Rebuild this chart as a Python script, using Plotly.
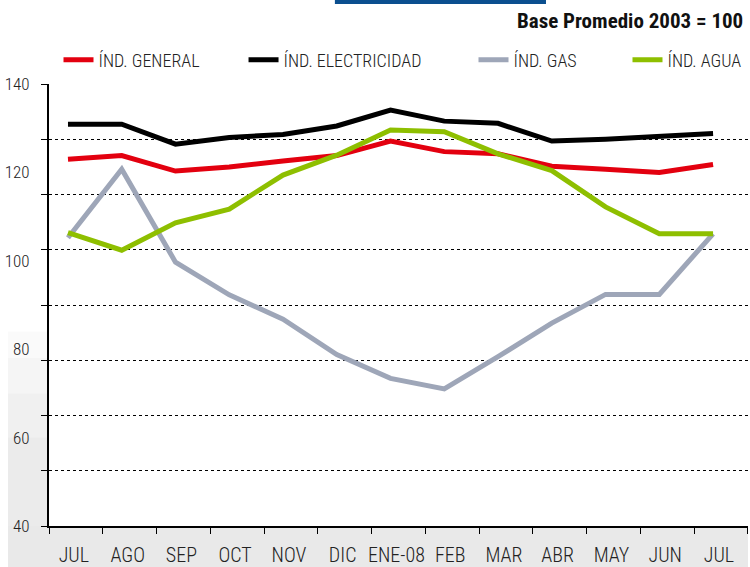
import plotly.graph_objects as go

months = ["JUL", "AGO", "SEP", "OCT", "NOV", "DIC", "ENE-08", "FEB", "MAR", "ABR", "MAY", "JUN", "JUL"]
general = [123.0, 123.8, 120.3, 121.2, 122.6, 123.8, 127.1, 124.7, 124.2, 121.4, 120.7, 120.0, 121.8]
electricidad = [130.9, 130.9, 126.4, 127.9, 128.6, 130.5, 134.1, 131.6, 131.1, 127.1, 127.5, 128.1, 128.8]
gas = [105.2, 120.7, 99.7, 92.3, 86.8, 78.8, 73.4, 71.0, 78.3, 85.9, 92.4, 92.4, 106.1]
agua = [106.4, 102.4, 108.6, 111.7, 119.4, 123.9, 129.6, 129.2, 124.2, 120.4, 112.2, 106.1, 106.1]

y_labels = [40, 60, 80, 100, 120, 140]
grid_vals = [40 + 12.5 * k for k in range(9)]

series = [
    ("ÍND. GENERAL", general, "#E3000F"),
    ("ÍND. ELECTRICIDAD", electricidad, "#000000"),
    ("ÍND. GAS", gas, "#9EA6B8"),
    ("ÍND. AGUA", agua, "#8EBF00"),
]
legend_x = [0.0136, 0.2783, 0.6073, 0.8276]

FAM = "Roboto Condensed, DejaVu Sans Condensed, sans-serif"
TXT = "#222222"

x_idx = list(range(len(months)))
fig = go.Figure()
legend_layouts = {}
for i, (name, vals, col) in enumerate(series):
    lname = "legend" if i == 0 else f"legend{i + 1}"
    fig.add_trace(go.Scatter(
        x=x_idx, y=vals, name=name, mode="lines",
        line=dict(color=col, width=5), legend=lname, hoverinfo="skip",
    ))
    legend_layouts[lname] = dict(
        orientation="h", x=legend_x[i], xanchor="left", y=1.054, yanchor="middle",
        font=dict(family=FAM, size=18, color=TXT, weight=300),
        bgcolor="rgba(0,0,0,0)", itemwidth=30,
    )

# soft grey fade on the lower-left margin
fade = [
    dict(type="rect", xref="paper", yref="paper", x0=-0.0587, x1=0,
         y0=0, y1=h, fillcolor="rgba(0,0,0,0.018)", line=dict(width=0), layer="below")
    for h in (0.44, 0.38, 0.30, 0.20)
]

fig.update_layout(
    width=750, height=567,
    margin=dict(l=49, r=2, t=84, b=41, autoexpand=False),
    paper_bgcolor="white", plot_bgcolor="white",
    font=dict(family=FAM, size=17, color=TXT),
    showlegend=True,
    hovermode=False,
    xaxis=dict(
        range=[-0.353, 12.65], showgrid=False, zeroline=False, automargin=False,
        tickvals=[k + 0.11 for k in x_idx], ticktext=months, ticks="",
        ticklabelstandoff=10, tickfont=dict(family=FAM, size=20, color=TXT, weight=300),
        showline=True, linecolor="#000000", linewidth=2,
        minor=dict(tickvals=[-0.353 + k for k in range(14)], ticks="outside",
                   ticklen=6, tickcolor="#000000", tickwidth=1, showgrid=False),
    ),
    yaxis=dict(
        range=[40, 140], zeroline=False, showgrid=False, automargin=False,
        tickvals=y_labels, ticktext=[str(v) for v in y_labels], ticks="",
        ticklabelstandoff=14, tickfont=dict(family=FAM, size=17, color=TXT, weight=300),
        showline=True, linecolor="#000000", linewidth=2,
        minor=dict(tickvals=grid_vals, ticks="outside", ticklen=6,
                   tickcolor="#000000", tickwidth=1, showgrid=True,
                   gridcolor="#000000", gridwidth=1, griddash="dot"),
    ),
    shapes=[
        dict(type="rect", xref="paper", yref="paper", x0=-0.0587, x1=1.0,
             y0=-0.0928, y1=0, fillcolor="#e9e9e9", line=dict(width=0), layer="below"),
        *fade,
        dict(type="rect", xref="paper", yref="paper", x0=0.409, x1=0.711,
             y0=1.181, y1=1.19, fillcolor="#0B4F8F", line=dict(width=0)),
    ],
    annotations=[
        dict(text="<b>Base Promedio 2003 = 100</b>", xref="paper", yref="paper",
             x=0.9957, y=1.1425, xanchor="right", yanchor="middle", showarrow=False,
             font=dict(family=FAM, size=21, color="#111111")),
    ],
    **legend_layouts,
)

fig.write_html("out.html", config={"displayModeBar": False},
               post_script="document.body.style.margin='0px';")
